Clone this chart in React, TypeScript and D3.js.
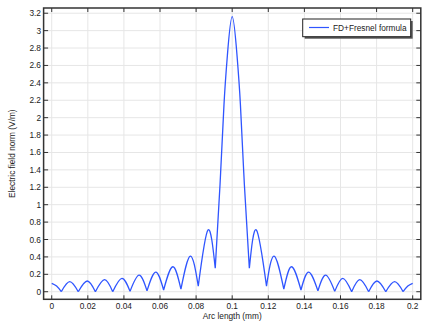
import React from "react";
import * as d3 from "d3";

// Knots (arc length in mm, |E| in V/m)
const arcLength = [
  0, 0.0027, 0.0053, 0.01, 0.0147, 0.0197, 0.0242, 0.0293, 0.0338, 0.0389,
  0.0434, 0.0484, 0.0528, 0.0576, 0.062, 0.0671, 0.0716, 0.0768, 0.0812, 0.0866,
  0.0906, 0.09325, 0.09545, 0.09735, 0.1, 0.10265, 0.10455, 0.10675, 0.1095,
  0.1134, 0.119, 0.1232, 0.1286, 0.1329, 0.1381, 0.1424, 0.1475, 0.1518, 0.1568,
  0.1613, 0.1662, 0.1707, 0.1756, 0.1802, 0.1851, 0.19, 0.1947, 0.1973, 0.2,
];
const fieldNorm = [
  0.097, 0.065, 0, 0.115, 0, 0.123, 0, 0.138, 0, 0.154,
  0.004, 0.19, 0.01, 0.226, 0.02, 0.287, 0.03, 0.41, 0.065, 0.71,
  0.27, 1.23, 2.15, 2.72, 3.16, 2.72, 2.15, 1.23, 0.27,
  0.71, 0.065, 0.41, 0.03, 0.287, 0.02, 0.226, 0.01, 0.19, 0.004,
  0.154, 0, 0.138, 0, 0.123, 0, 0.115, 0, 0.065, 0.097,
];
const xTicks = [0, 0.02, 0.04, 0.06, 0.08, 0.1, 0.12, 0.14, 0.16, 0.18, 0.2];
const xTickLabels = ["0", "0.02", "0.04", "0.06", "0.08", "0.1", "0.12", "0.14", "0.16", "0.18", "0.2"];
const yTicks = [0, 0.2, 0.4, 0.6, 0.8, 1, 1.2, 1.4, 1.6, 1.8, 2, 2.2, 2.4, 2.6, 2.8, 3, 3.2];
const yTickLabels = ["0", "0.2", "0.4", "0.6", "0.8", "1", "1.2", "1.4", "1.6", "1.8", "2", "2.2", "2.4", "2.6", "2.8", "3", "3.2"];
const seriesName = "FD+Fresnel formula";
const xTitle = "Arc length (mm)";
const yTitle = "Electric field norm (V/m)";

const W = 430;
const H = 329;
const L = 43.6, R = 420.8, T = 8, B = 299.3;
const FONT = "'Liberation Sans', Arial, sans-serif";
const LINE = "#2f55ff";

export default function App() {
  const x = d3.scaleLinear().domain([-0.0045, 0.2045]).range([L, R]);
  const y = d3.scaleLinear().domain([-0.087, 3.26]).range([B, T]);

  const pts: [number, number][] = arcLength.map((a, i) => [a, fieldNorm[i]]);
  // split at cusps (local minima) so valleys stay sharp
  const segments: [number, number][][] = [];
  let cur: [number, number][] = [pts[0]];
  for (let i = 1; i < pts.length; i++) {
    cur.push(pts[i]);
    const isValley = i < pts.length - 1 && fieldNorm[i] < fieldNorm[i - 1] && fieldNorm[i] < fieldNorm[i + 1];
    if (isValley) {
      segments.push(cur);
      cur = [pts[i]];
    }
  }
  segments.push(cur);
  const line = d3
    .line<[number, number]>()
    .x((d) => x(d[0]))
    .y((d) => y(d[1]))
    .curve(d3.curveNatural);
  const pathD = segments.map((s) => line(s)).join("");

  const lx = 302.7, ly = 19, lw = 108, lh = 17.7;

  return (
    <div style={{ position: "absolute", left: 0, top: 0 }}>
      <svg width={W} height={H} style={{ display: "block", background: "#fff" }}>
        <rect x={0} y={0} width={W} height={H} fill="#fff" />
        {/* grid */}
        {xTicks.map((t) => (
          <line key={"gx" + t} x1={x(t)} x2={x(t)} y1={T} y2={B} stroke="#e6e6e6" strokeWidth={1} />
        ))}
        {yTicks.map((t) => (
          <line key={"gy" + t} x1={L} x2={R} y1={y(t)} y2={y(t)} stroke="#e6e6e6" strokeWidth={1} />
        ))}
        {/* curve */}
        <path d={pathD} fill="none" stroke={LINE} strokeWidth={1.3} strokeLinejoin="round" />
        {/* ticks */}
        {xTicks.map((t) => (
          <g key={"tx" + t}>
            <line x1={x(t)} x2={x(t)} y1={B} y2={B - 4} stroke="#333" strokeWidth={1} />
            <line x1={x(t)} x2={x(t)} y1={T} y2={T + 4} stroke="#333" strokeWidth={1} />
          </g>
        ))}
        {yTicks.map((t) => (
          <g key={"ty" + t}>
            <line x1={L} x2={L + 4.5} y1={y(t)} y2={y(t)} stroke="#333" strokeWidth={1} />
            <line x1={R} x2={R - 4.5} y1={y(t)} y2={y(t)} stroke="#333" strokeWidth={1} />
          </g>
        ))}
        {/* frame */}
        <rect x={L} y={T} width={R - L} height={B - T} fill="none" stroke="#333" strokeWidth={1.5} />
        {/* tick labels */}
        {xTicks.map((t, i) => (
          <text key={"lx" + t} x={x(t)} y={309.3} fontSize={8.3} fontFamily={FONT} textAnchor="middle" fill="#222">
            {xTickLabels[i]}
          </text>
        ))}
        {yTicks.map((t, i) => (
          <text key={"ly" + t} x={41} y={y(t) + 3} fontSize={8.3} fontFamily={FONT} textAnchor="end" fill="#222">
            {yTickLabels[i]}
          </text>
        ))}
        {/* axis titles */}
        <text x={(L + R) / 2} y={319} fontSize={8.3} fontFamily={FONT} textAnchor="middle" fill="#222">
          {xTitle}
        </text>
        <text
          transform={`translate(15, ${(T + B) / 2}) rotate(-90)`}
          fontSize={8.3}
          fontFamily={FONT}
          textAnchor="middle"
          fill="#222"
        >
          {yTitle}
        </text>
        {/* legend */}
        <rect x={lx + 2} y={ly + 2} width={lw} height={lh} fill="#555" />
        <rect x={lx} y={ly} width={lw} height={lh} fill="#fff" stroke="#222" strokeWidth={1} />
        <line x1={309} x2={329} y1={27.5} y2={27.5} stroke={LINE} strokeWidth={1.2} />
        <text x={333} y={30.5} fontSize={8.3} fontFamily={FONT} fill="#222">
          {seriesName}
        </text>
      </svg>
    </div>
  );
}
